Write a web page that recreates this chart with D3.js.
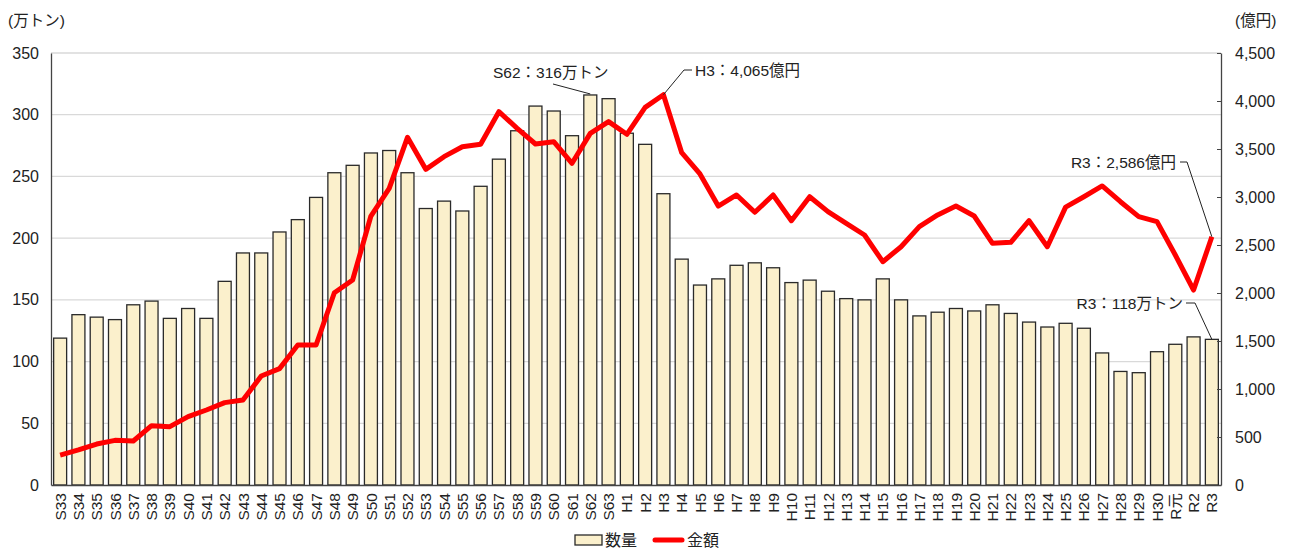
<!doctype html>
<html lang="ja">
<head>
  <meta charset="UTF-8">
  <title>数量・金額</title>
  <script src="https://cdn.jsdelivr.net/npm/d3@7"></script>
  <style>
    body { margin: 0; background: #fff; }
    svg text { font-family: "Liberation Sans", Arial, "Noto Sans CJK JP", sans-serif; fill: #222; }
  </style>
</head>
<body>
<div id="container"></div>
<script type="text/javascript">
var years = ['S33','S34','S35','S36','S37','S38','S39','S40','S41','S42','S43','S44','S45','S46','S47','S48','S49','S50',
  'S51','S52','S53','S54','S55','S56','S57','S58','S59','S60','S61','S62','S63',
  'H1','H2','H3','H4','H5','H6','H7','H8','H9','H10','H11','H12','H13','H14','H15','H16','H17','H18','H19','H20',
  'H21','H22','H23','H24','H25','H26','H27','H28','H29','H30','R元','R2','R3'];

// 数量 (万トン)
var volume = [119,138,136,134,146,149,135,143,135,165,188,188,205,215,233,253,259,269,
  271,253,224,230,222,242,264,287,307,303,283,316,313,
  285,276,236,183,162,167,178,180,176,164,166,157,151,150,167,150,137,140,143,141,
  146,139,132,128,131,127,107,92,91,108,114,120,118];

// 金額 (億円)
var amount = [312,365,427,465,458,618,608,712,781,858,885,1135,1212,1458,1458,2003,2135,2802,
  3090,3622,3288,3420,3524,3549,3889,3715,3552,3576,3351,3663,3785,
  3653,3934,4065,3462,3240,2906,3021,2841,3021,2753,3003,2847,2726,2604,2326,2482,2691,2813,2906,2802,
  2518,2528,2753,2482,2895,3003,3115,2951,2795,2743,2396,2031,2586];

var leftTicks = [0,50,100,150,200,250,300,350];
var rightTicks = [0,500,1000,1500,2000,2500,3000,3500,4000,4500];

var width = 1291, height = 548;
var margin = {top: 53, right: 70, bottom: 63, left: 51};

var svg = d3.select('#container').append('svg')
  .attr('width', width)
  .attr('height', height);

var x = d3.scaleBand()
  .domain(years)
  .range([margin.left, width - margin.right])
  .paddingInner(0.29)
  .paddingOuter(0.145);

var yL = d3.scaleLinear().domain([0, 350]).range([height - margin.bottom, margin.top]);
var yR = d3.scaleLinear().domain([0, 4500]).range([height - margin.bottom, margin.top]);

// gridlines
svg.append('g').selectAll('line').data(leftTicks.slice(1)).enter()
  .append('line')
  .attr('x1', margin.left).attr('x2', width - margin.right)
  .attr('y1', function(d) { return yL(d) }).attr('y2', function(d) { return yL(d) })
  .attr('stroke', '#d9d9d9')
  .attr('stroke-width', 1.3);

// bars
svg.append('g').selectAll('rect').data(volume).enter()
  .append('rect')
  .attr('x', function(d, i) { return x(years[i]) })
  .attr('y', function(d) { return yL(d) })
  .attr('width', x.bandwidth())
  .attr('height', function(d) { return yL(0) - yL(d) })
  .attr('fill', '#fbf0cc')
  .attr('stroke', '#2a2a2a')
  .attr('stroke-width', 1.3);

// left axis
var axL = svg.append('g')
  .attr('transform', 'translate(' + margin.left + ',0)')
  .call(d3.axisLeft(yL).tickValues(leftTicks).tickSize(0).tickPadding(12));
axL.select('.domain').attr('stroke', '#444').attr('stroke-width', 1.3);
axL.selectAll('text').style('font-size', '16px');

// right axis
var axR = svg.append('g')
  .attr('transform', 'translate(' + (width - margin.right) + ',0)')
  .call(d3.axisRight(yR).tickValues(rightTicks).tickSizeInner(-4).tickSizeOuter(0).tickPadding(14)
    .tickFormat(d3.format(',')));
axR.select('.domain').attr('stroke', '#444').attr('stroke-width', 1.3);
axR.selectAll('line').attr('stroke', '#444');
axR.selectAll('text').style('font-size', '16px');

// bottom axis
var axB = svg.append('g')
  .attr('transform', 'translate(0,' + yL(0) + ')')
  .call(d3.axisBottom(x).tickSize(0).tickSizeOuter(0));
axB.select('.domain').attr('stroke', '#444').attr('stroke-width', 1.3);
axB.selectAll('text')
  .style('font-size', '15.5px')
  .style('text-anchor', 'end')
  .attr('transform', 'rotate(-90)')
  .attr('x', -8)
  .attr('y', 0)
  .attr('dy', '0.36em');

// line
var line = d3.line()
  .x(function(d, i) { return x(years[i]) + x.bandwidth() / 2 })
  .y(function(d) { return yR(d) });

svg.append('path')
  .datum(amount)
  .attr('d', line)
  .attr('fill', 'none')
  .attr('stroke', '#ff0000')
  .attr('stroke-width', 5)
  .attr('stroke-linejoin', 'round');

// axis titles
svg.append('text').attr('x', 8).attr('y', 26).text('(万トン)').style('font-size', '15.5px');
svg.append('text').attr('x', 1235).attr('y', 26).text('(億円)').style('font-size', '15.5px');

// annotations
function cx(k) { return x(k) + x.bandwidth() / 2 }
var notes = [
  {text: 'S62：316万トン', tx: 493, ty: 78, anchor: 'start',
    pts: [[553, 84], [cx('S62'), yL(316) - 1]]},
  {text: 'H3：4,065億円', tx: 695, ty: 76, anchor: 'start',
    pts: [[692, 70], [684, 70], [cx('H3'), yR(4065)]]},
  {text: 'R3：2,586億円', tx: 1176, ty: 168, anchor: 'end',
    pts: [[1180, 162], [1187, 162], [cx('R3'), yR(2586)]]},
  {text: 'R3：118万トン', tx: 1183, ty: 309, anchor: 'end',
    pts: [[1186, 303], [1195, 303], [cx('R3'), yL(118)]]}
];
notes.forEach(function(n) {
  svg.append('text')
    .attr('x', n.tx).attr('y', n.ty)
    .attr('text-anchor', n.anchor)
    .style('font-size', '15.5px')
    .text(n.text);
  svg.append('path')
    .attr('d', d3.line()(n.pts))
    .attr('fill', 'none')
    .attr('stroke', '#222')
    .attr('stroke-width', 1);
});

// legend
var lg = svg.append('g');
lg.append('rect').attr('x', 575).attr('y', 535).attr('width', 27).attr('height', 10)
  .attr('fill', '#fbf0cc').attr('stroke', '#2a2a2a').attr('stroke-width', 1.3);
lg.append('text').attr('x', 605).attr('y', 546).text('数量').style('font-size', '16px');
lg.append('line').attr('x1', 655).attr('x2', 682).attr('y1', 540).attr('y2', 540)
  .attr('stroke', '#ff0000').attr('stroke-width', 5).attr('stroke-linecap', 'round');
lg.append('text').attr('x', 687).attr('y', 546).text('金額').style('font-size', '16px');
</script>
</body>
</html>
